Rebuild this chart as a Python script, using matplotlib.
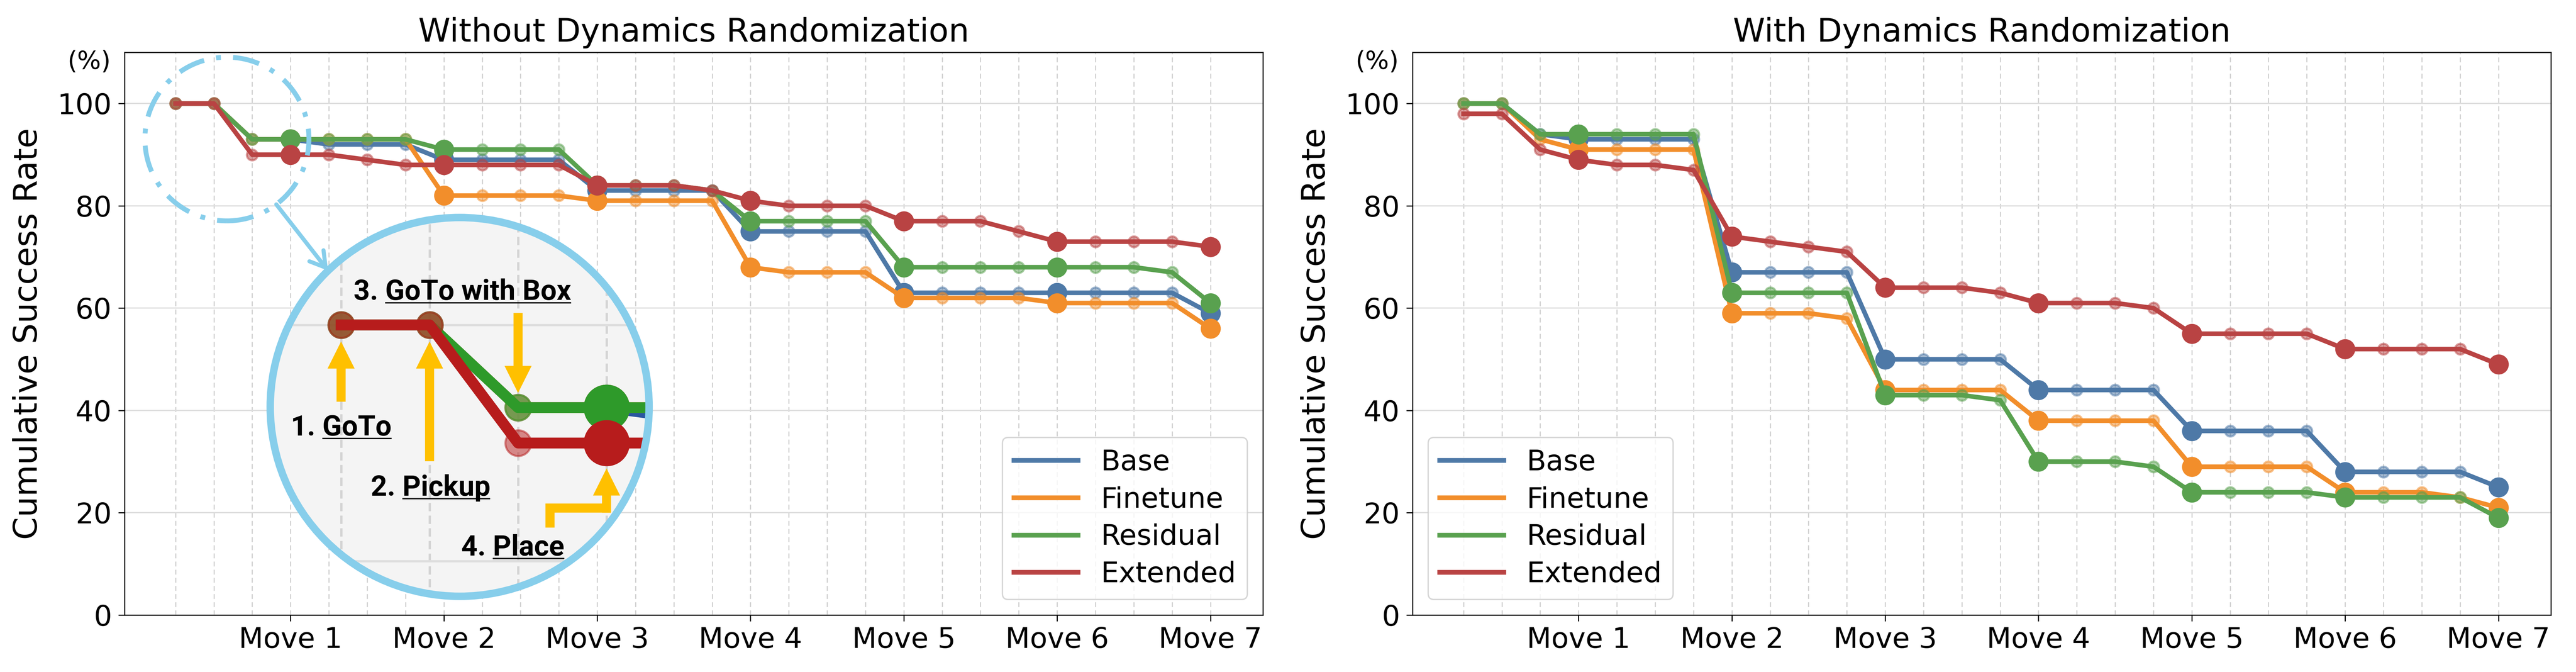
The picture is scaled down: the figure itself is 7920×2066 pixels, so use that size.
import numpy as np
import matplotlib
matplotlib.use('Agg')
import matplotlib.pyplot as plt
from matplotlib.lines import Line2D
from matplotlib.patches import Circle, Ellipse, ConnectionPatch

plt.rcParams['font.family'] = ['DejaVu Sans']

# x positions: 28 sub-steps, big markers at the end of each move
steps = list(range(28))
move_ticks = [3, 7, 11, 15, 19, 23, 27]
move_labels = ['Move 1', 'Move 2', 'Move 3', 'Move 4', 'Move 5', 'Move 6', 'Move 7']
methods = ['Base', 'Finetune', 'Residual', 'Extended']
colors = ['#4e79a7', '#f28e2b', '#59a14f', '#b94343']
zoom_colors = ['#2a55a0', '#f28e2b', '#2e9a2a', '#b71c1c']

# Without Dynamics Randomization
base_wo = [100, 100, 93, 93, 92, 92, 92, 89, 89, 89, 89, 83, 83, 83, 83, 75, 75, 75, 75,
           63, 63, 63, 63, 63, 63, 63, 63, 59]
finetune_wo = [100, 100, 93, 93, 93, 93, 93, 82, 82, 82, 82, 81, 81, 81, 81, 68, 67, 67, 67,
               62, 62, 62, 62, 61, 61, 61, 61, 56]
residual_wo = [100, 100, 93, 93, 93, 93, 93, 91, 91, 91, 91, 84, 84, 84, 83, 77, 77, 77, 77,
               68, 68, 68, 68, 68, 68, 68, 67, 61]
extended_wo = [100, 100, 90, 90, 90, 89, 88, 88, 88, 88, 88, 84, 84, 84, 83, 81, 80, 80, 80,
               77, 77, 77, 75, 73, 73, 73, 73, 72]

# With Dynamics Randomization
base_w = [100, 100, 94, 93, 93, 93, 93, 67, 67, 67, 67, 50, 50, 50, 50, 44, 44, 44, 44,
          36, 36, 36, 36, 28, 28, 28, 28, 25]
finetune_w = [100, 100, 93, 91, 91, 91, 91, 59, 59, 59, 58, 44, 44, 44, 44, 38, 38, 38, 38,
              29, 29, 29, 29, 24, 24, 24, 23, 21]
residual_w = [100, 100, 94, 94, 94, 94, 94, 63, 63, 63, 63, 43, 43, 43, 42, 30, 30, 30, 29,
              24, 24, 24, 24, 23, 23, 23, 23, 19]
extended_w = [98, 98, 91, 89, 88, 88, 87, 74, 73, 72, 71, 64, 64, 64, 63, 61, 61, 61, 60,
              55, 55, 55, 55, 52, 52, 52, 52, 49]

small_idx = [i for i in steps if i not in move_ticks]


def plot_series(ax, series, cols, lw, s_small, s_big, zbase=3):
    arts = []
    for k, (vals, c) in enumerate(zip(series, cols)):
        arts += ax.plot(steps, vals, color=c, lw=lw, zorder=zbase + k)
        arts.append(ax.scatter(small_idx, [vals[i] for i in small_idx], s=s_small, color=c,
                               alpha=0.5, edgecolors=c, linewidths=1.5, zorder=zbase + k))
        arts.append(ax.scatter(move_ticks, [vals[i] for i in move_ticks], s=s_big, color=c,
                               zorder=zbase + k))
    return arts


def draw_panel(ax, series, title, loc):
    plot_series(ax, series, colors, 3.4, 64, 190)
    ax.set_xlim(-1.33, 28.37)
    ax.set_ylim(0, 110)
    ax.set_xticks(move_ticks)
    ax.set_xticklabels(move_labels)
    ax.set_xticks(steps, minor=True)
    ax.set_yticks([0, 20, 40, 60, 80, 100])
    ax.tick_params(axis='both', which='major', labelsize=21, length=4.5, width=0.8, pad=4)
    ax.tick_params(axis='y', pad=5)
    ax.tick_params(axis='x', which='minor', length=0)
    ax.grid(True, axis='x', which='both', ls=(0, (4.5, 3)), color='#cfcfcf', lw=0.8)
    ax.grid(True, axis='y', which='major', ls='-', color='#dddddd', lw=0.9)
    ax.set_axisbelow(True)
    ax.set_title(title, fontsize=24, pad=8)
    ax.set_ylabel('Cumulative Success Rate', fontsize=24, labelpad=10)
    ax.text(-0.012, 0.983, '(%)', transform=ax.transAxes, ha='right', va='center', fontsize=18.5)
    handles = [Line2D([0], [0], color=c, lw=3.5) for c in colors]
    ax.legend(handles, methods, loc=loc, fontsize=21, handlelength=2.25, handletextpad=0.8,
              labelspacing=0.35, borderaxespad=0.55, borderpad=0.4, framealpha=0.8,
              edgecolor='#cccccc', fancybox=True)


fig = plt.figure(figsize=(26.4, 6.8867), dpi=300)
ax1 = fig.add_axes([0.04836, 0.0847, 0.44192, 0.83737])
ax2 = fig.add_axes([0.54836, 0.0847, 0.44192, 0.83737])

draw_panel(ax1, [base_wo, finetune_wo, residual_wo, extended_wo],
           'Without Dynamics Randomization', 'lower right')
draw_panel(ax2, [base_w, finetune_w, residual_w, extended_w],
           'With Dynamics Randomization', 'lower left')

# zoomed view of the first move (left panel)
cx, cy = 1.34, 93.06
sky = '#87ceeb'
gold = '#ffc000'
ax1.add_patch(Ellipse((cx, cy), 2 * 2.14, 2 * 16.0, fill=False, ec=sky, lw=3.6,
                      ls=(0, (5.5, 2.5, 1, 2.5)), zorder=10))

ins = ax1.inset_axes([0.1249, 0.0272, 0.3389, 0.6855])
ins.set_xlim(cx - 2.18, cx + 2.18)
ins.set_ylim(cy - 16.33, cy + 16.33)
ins.axis('off')
bg = Circle((0.5, 0.5), 0.491, transform=ins.transAxes, fc='#f4f4f4', ec='none', zorder=0)
ins.add_patch(bg)

arts = []
for i in range(-1, 5):
    arts.append(ins.axvline(i, color='#d4d4d4', lw=1.7, ls=(0, (3.6, 1.9)), zorder=1))
for yv in [80, 100]:
    arts.append(ins.axhline(yv, color='#dedede', lw=1.7, zorder=1))
arts += plot_series(ins, [base_wo, finetune_wo, residual_wo, extended_wo], zoom_colors,
                    8, 361, 1089)
for a in arts:
    a.set_clip_path(bg)

ins.add_patch(Circle((0.5, 0.5), 0.491, transform=ins.transAxes, fc='none', ec=sky,
                     lw=5.5, zorder=20, clip_on=False))

arrow_style = dict(arrowstyle='simple,head_length=1.0,head_width=1.0,tail_width=0.335',
                   mutation_scale=20, color=gold, lw=0, shrinkA=0, shrinkB=0)
ins.annotate('', xy=(0, 98.6), xytext=(0, 93.5), arrowprops=arrow_style, zorder=15)
ins.annotate('', xy=(1, 98.6), xytext=(1, 88.46), arrowprops=arrow_style, zorder=15)
ins.annotate('', xy=(2, 94.24), xytext=(2, 101.02), arrowprops=arrow_style, zorder=15)
ins.plot([2.36, 2.36, 3.0], [82.84, 84.49, 84.49], color=gold, lw=6.7,
         solid_joinstyle='miter', solid_capstyle='butt', zorder=15)
ins.annotate('', xy=(3, 87.85), xytext=(3, 84.1), arrowprops=arrow_style, zorder=15)

labels = [((0.0, 90.63), '1. GoTo', 'GoTo'),
          ((1.01, 85.54), '2. Pickup', 'Pickup'),
          ((1.37, 102.12), '3. GoTo with Box', 'GoTo with Box'),
          ((1.94, 80.47), '4. Place', 'Place')]
label_font = dict(fontsize=21, fontfamily='Roboto', fontweight='bold')
texts = []
for (x, y), lab, word in labels:
    t = ins.text(x, y, lab, ha='center', va='baseline', zorder=16, **label_font)
    texts.append((t, word))

# arrow from the dashed circle to the zoomed view
ang_a = np.deg2rad(-53)
ang_b = np.deg2rad(134)
con = ConnectionPatch(xyA=(cx + 2.14 * np.cos(ang_a), cy + 16.0 * np.sin(ang_a)), coordsA=ax1.transData,
                      xyB=(0.5 + 0.491 * np.cos(ang_b), 0.5 + 0.491 * np.sin(ang_b)), coordsB=ins.transAxes,
                      arrowstyle='->,head_length=0.55,head_width=0.33', mutation_scale=20,
                      color=sky, lw=3, shrinkA=0, shrinkB=0, zorder=12)
fig.add_artist(con)

# underline the step names
fig.canvas.draw()
r = fig.canvas.get_renderer()
for t, word in texts:
    bb = t.get_window_extent(r)
    tmp = ins.text(0, 0, word, **label_font)
    wb = tmp.get_window_extent(r)
    tmp.remove()
    yb = ins.transData.transform(t.get_position())[1] - 9
    p0 = ins.transData.inverted().transform((bb.x1 - wb.width, yb))
    p1 = ins.transData.inverted().transform((bb.x1, yb))
    ins.plot([p0[0], p1[0]], [p0[1], p0[1]], color='black', lw=1.0,
             solid_capstyle='butt', zorder=16)

fig.savefig('out.png', dpi=300)
